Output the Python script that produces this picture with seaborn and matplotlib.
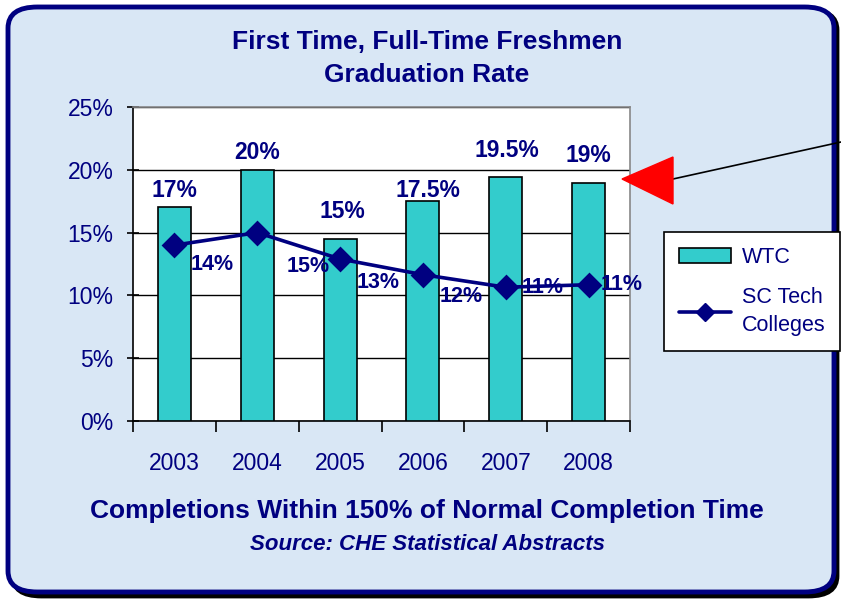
import matplotlib
matplotlib.use('Agg')
import matplotlib.pyplot as plt
import seaborn as sns
import pandas as pd
from matplotlib.patches import FancyBboxPatch, Polygon, Patch
from matplotlib.lines import Line2D
from matplotlib.ticker import FixedLocator, PercentFormatter

# --- data ---
years = ['2003', '2004', '2005', '2006', '2007', '2008']
wtc = [17.0, 20.0, 14.5, 17.5, 19.4, 18.95]
sc_tech = [14.0, 15.0, 12.9, 11.65, 10.65, 10.85]
wtc_labels = ['17%', '20%', '15%', '17.5%', '19.5%', '19%']
sc_labels = ['14%', '15%', '13%', '12%', '11%', '11%']

# label offsets in pixels (dx, dy)
wtc_off = [(0, 17), (0, 17), (2, 27), (5, 11), (1, 27), (0, 27)]
sc_off = [(38, -19), (51, -34), (38, -24), (38, -22), (37, 0), (33, 0)]

NAVY = '#000080'
TEAL = '#33CCCC'

sns.set_style('white')
plt.rcParams['font.family'] = ['Liberation Sans', 'DejaVu Sans']

df = pd.DataFrame({'year': years, 'wtc': wtc, 'sc': sc_tech})

fig = plt.figure(figsize=(8.41, 6.01), dpi=100)
fig.patch.set_facecolor('white')

# rounded frame with shadow
W, H = 841.0, 601.0
shadow = FancyBboxPatch((12 / W, 4 / H), 826 / W, 588 / H,
                        boxstyle='round,pad=0,rounding_size=0.035',
                        transform=fig.transFigure, facecolor='black',
                        edgecolor='black', lw=2, zorder=-2)
frame = FancyBboxPatch((8 / W, 9 / H), 826 / W, 585 / H,
                       boxstyle='round,pad=0,rounding_size=0.035',
                       transform=fig.transFigure, facecolor='#D9E7F5',
                       edgecolor=NAVY, lw=3.5, zorder=-1)
fig.patches.extend([shadow, frame])

ax = fig.add_axes([133 / W, 1 - 421 / H, 497 / W, 314 / H])
ax.set_facecolor('white')

sns.barplot(data=df, x='year', y='wtc', color=TEAL, saturation=1,
            width=0.4, edgecolor='black', linewidth=1.2, ax=ax, zorder=3)
sns.pointplot(data=df, x='year', y='sc', color=NAVY, markers='D',
              markersize=11.5, linewidth=2.6, ax=ax, zorder=4)

for i, (v, t, (dx, dy)) in enumerate(zip(wtc, wtc_labels, wtc_off)):
    ax.annotate(t, (i, v), xytext=(dx, dy), textcoords='offset pixels',
                ha='center', va='center', fontsize=16.5, fontweight='bold',
                color=NAVY, zorder=6)
for i, (v, t, (dx, dy)) in enumerate(zip(sc_tech, sc_labels, sc_off)):
    ax.annotate(t, (i, v), xytext=(dx, dy), textcoords='offset pixels',
                ha='center', va='center', fontsize=15.5, fontweight='bold',
                color=NAVY, zorder=6, annotation_clip=False)

ax.set_ylim(0, 25)
ax.set_xlim(-0.5, 5.5)
ax.set_yticks([0, 5, 10, 15, 20, 25])
ax.yaxis.set_major_formatter(PercentFormatter(decimals=0))
ax.yaxis.grid(True, color='black', lw=1)
ax.set_axisbelow(True)
ax.set_xlabel('')
ax.set_ylabel('')

ax.tick_params(axis='y', direction='inout', length=8, width=1.2,
               left=True, labelsize=16.5, labelcolor=NAVY, pad=10, color='black')
ax.tick_params(axis='x', which='major', length=0, labelsize=16.5,
               labelcolor=NAVY, pad=22)
ax.xaxis.set_minor_locator(FixedLocator([i - 0.5 for i in range(len(years) + 1)]))
ax.tick_params(axis='x', which='minor', direction='out', length=8,
               width=1.2, bottom=True, color='black')

for s in ['left', 'bottom']:
    ax.spines[s].set_color('black')
    ax.spines[s].set_linewidth(1.2)
for s in ['top', 'right']:
    ax.spines[s].set_color('#888888')
    ax.spines[s].set_linewidth(1.2)
    ax.spines[s].set_visible(True)

# red pointer arrow
tri = Polygon([[622 / W, 1 - 179 / H], [673 / W, 1 - 157 / H], [673 / W, 1 - 204 / H]],
              closed=True, transform=fig.transFigure, facecolor='#FF0000',
              edgecolor='#FF0000', zorder=7)
fig.patches.append(tri)
fig.lines.append(Line2D([673 / W, 841 / W], [1 - 179 / H, 1 - 142 / H],
                        transform=fig.transFigure, color='black', lw=1.2, zorder=7))

# legend
handles = [Patch(facecolor=TEAL, edgecolor='black', lw=1.2),
           Line2D([0], [0], color=NAVY, lw=2.6, marker='D', markersize=9)]
leg = fig.legend(handles, ['WTC', 'SC Tech\nColleges'], loc='upper left',
                 bbox_to_anchor=(664 / W, 1 - 232 / H), borderaxespad=0,
                 fontsize=15.5, frameon=True, fancybox=False, framealpha=1,
                 edgecolor='black', handlelength=2.4, handleheight=0.7,
                 labelspacing=0.9, borderpad=0.7, handletextpad=0.5)
leg.get_frame().set_linewidth(1.2)
for txt in leg.get_texts():
    txt.set_color(NAVY)
    txt.set_linespacing(1.4)

# titles and captions
fig.text(427 / W, 1 - 42 / H, 'First Time, Full-Time Freshmen', ha='center',
         va='center', fontsize=19, fontweight='bold', color=NAVY)
fig.text(427 / W, 1 - 75 / H, 'Graduation Rate', ha='center',
         va='center', fontsize=19, fontweight='bold', color=NAVY)
fig.text(427 / W, 1 - 511 / H, 'Completions Within 150% of Normal Completion Time',
         ha='center', va='center', fontsize=19, fontweight='bold', color=NAVY)
fig.text(428 / W, 1 - 544 / H, 'Source: CHE Statistical Abstracts',
         ha='center', va='center', fontsize=16, fontweight='bold',
         fontstyle='italic', color=NAVY)

plt.savefig('out.png', dpi=100)
plt.close()
